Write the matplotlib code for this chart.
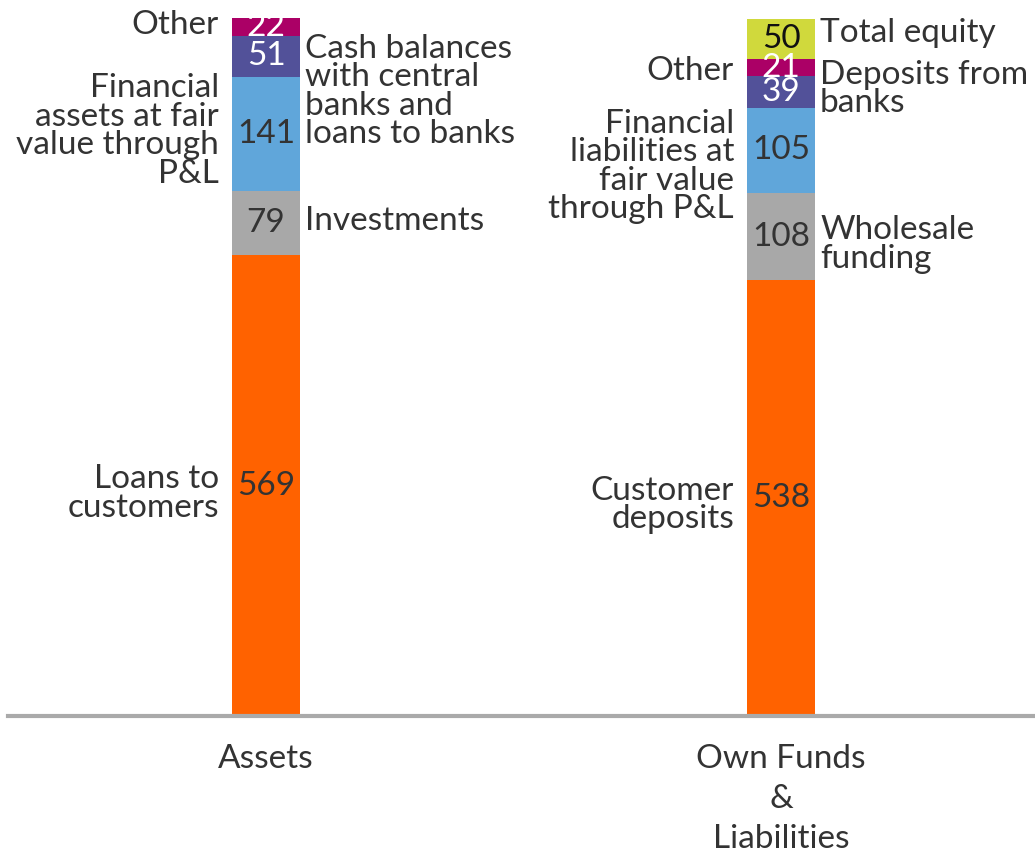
#!/usr/bin/env python3
"""Balance sheet breakdown: assets vs own funds & liabilities as two stacked bars."""

import matplotlib.pyplot as plt

# data, bottom segment first
categories = ["Assets", "Own Funds\n&\nLiabilities"]

assets_values = [569, 79, 141, 51, 22]
assets_labels = [
    "Loans to\ncustomers",
    "Investments",
    "Financial\nassets at fair\nvalue through\nP&L",
    "Cash balances\nwith central\nbanks and\nloans to banks",
    "Other",
]

liab_values = [538, 108, 105, 39, 21, 50]
liab_labels = [
    "Customer\ndeposits",
    "Wholesale\nfunding",
    "Financial\nliabilities at\nfair value\nthrough P&L",
    "Deposits from\nbanks",
    "Other",
    "Total equity",
]

# styling per segment
assets_colors = ["#FF6200", "#A8A8A8", "#60A6DA", "#525199", "#AB0066"]
liab_colors = ["#FF6200", "#A8A8A8", "#60A6DA", "#525199", "#AB0066", "#D0D93C"]
assets_num_colors = ["#333333", "#333333", "#333333", "white", "white"]
liab_num_colors = ["#333333", "#333333", "#333333", "white", "white", "#111111"]
assets_side = ["left", "right", "left", "right", "left"]
liab_side = ["left", "right", "left", "right", "left", "right"]
# vertical nudge of the side labels, pixels (positive = up)
assets_dy = [-8, 2, 3, -35, 2]
liab_dy = [-7, -8, -16, 3, -3, 6]

TEXT = "#333333"
FONT = "Lato"
SIZE = 24

plt.rcParams["font.family"] = [FONT, "DejaVu Sans"]

fig = plt.figure(figsize=(10.35, 8.52), dpi=100)
W, H = 1035, 852
# axes: x from 8px to right edge, baseline at 716px, top of tallest bar at 18px
ax = fig.add_axes([8 / W, (H - 716) / H, (W - 8) / W, (716 - 18) / H])

ymax = max(sum(assets_values), sum(liab_values))
bar_w = 0.132
ax.set_xlim(-0.501, 1.493)
ax.set_ylim(0, ymax)


def draw_bar(x, values, labels, colors, num_colors, sides, dys):
    bottom = 0
    for v, lab, c, nc, side, dy in zip(values, labels, colors, num_colors, sides, dys):
        ax.bar(x, v, width=bar_w, bottom=bottom, color=c, linewidth=0, zorder=2)
        mid = bottom + v / 2
        ax.text(x, mid, str(v), ha="center", va="center", color=nc,
                fontsize=SIZE, zorder=3)
        if side == "left":
            xy, dx, ha = (x - bar_w / 2, mid), -13, "right"
        else:
            xy, dx, ha = (x + bar_w / 2, mid), 5, "left"
        ax.annotate(lab, xy=xy, xytext=(dx, dy), textcoords="offset pixels",
                    ha=ha, va="center", color=TEXT, fontsize=SIZE,
                    linespacing=0.94, annotation_clip=False)
        bottom += v


draw_bar(0, assets_values, assets_labels, assets_colors, assets_num_colors,
         assets_side, assets_dy)
draw_bar(1, liab_values, liab_labels, liab_colors, liab_num_colors,
         liab_side, liab_dy)

for s in ["top", "left", "right"]:
    ax.spines[s].set_visible(False)
ax.spines["bottom"].set_color("#AAAAAA")
ax.spines["bottom"].set_linewidth(3)
ax.spines["bottom"].set_zorder(4)
ax.set_yticks([])
ax.set_xticks([0, 1])
ax.set_xticklabels(categories, fontsize=SIZE, color=TEXT, linespacing=1.42)
ax.tick_params(axis="x", length=0, pad=20)

fig.savefig("out.png", dpi=100)
